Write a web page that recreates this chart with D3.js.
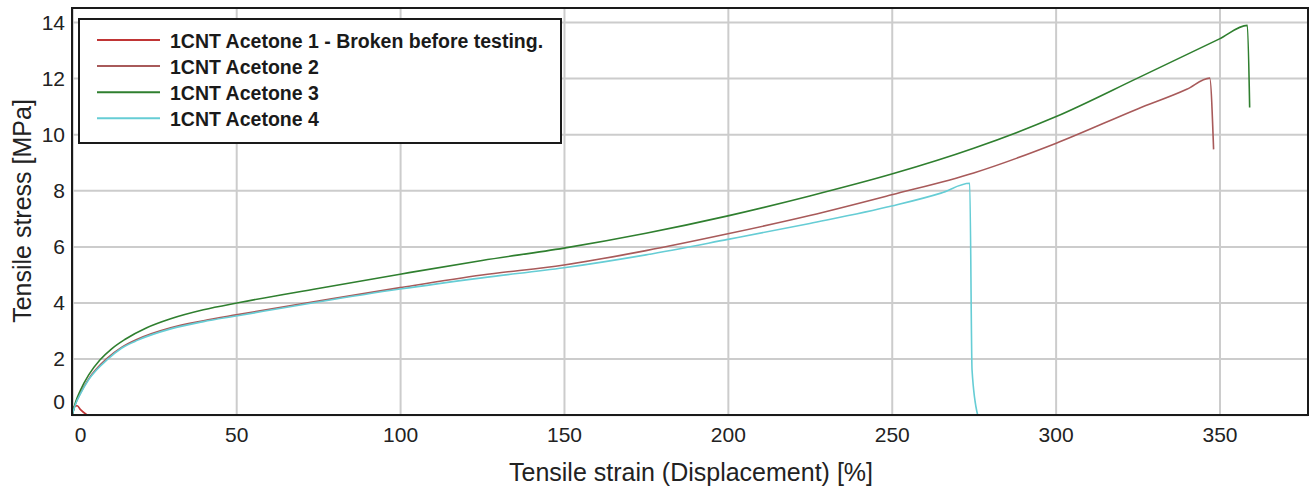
<!DOCTYPE html>
<html>
<head>
<meta charset="utf-8">
<script src="https://cdn.jsdelivr.net/npm/d3@7"></script>
<style>
  html, body { margin: 0; padding: 0; background: #fff; }
  svg { display: block; font-family: "Liberation Sans", Arial, sans-serif; }
</style>
</head>
<body>
<svg id="chart" width="1314" height="493"></svg>
<script>
// Tensile test curves: strain [%] and stress [MPa] for each specimen
const strain1 = [0, 0.6, 1.5, 2.5, 4.4];
const stress1 = [0.05, 0.3, 0.32, 0.18, 0.0];

const strain2 = [0, 1, 2.5, 5, 10.5, 15, 20, 30, 40, 50, 75, 100, 125, 150, 175, 200, 225, 250, 275, 300, 325, 340, 347, 348.2];
const stress2 = [0, 0.4, 0.78, 1.28, 2.0, 2.4, 2.7, 3.1, 3.35, 3.56, 4.05, 4.53, 4.98, 5.34, 5.85, 6.45, 7.1, 7.84, 8.62, 9.67, 10.9, 11.6, 12.0, 9.46];

const strain3 = [0, 1, 2.5, 5, 8.4, 12, 16, 22.7, 30, 40, 51, 75, 100, 125, 150, 175, 200, 225, 250, 275, 300, 325, 350, 358.5, 359.2];
const stress3 = [0, 0.45, 0.88, 1.42, 1.95, 2.35, 2.68, 3.1, 3.42, 3.74, 4.0, 4.5, 5.01, 5.5, 5.94, 6.47, 7.09, 7.8, 8.58, 9.5, 10.62, 12.0, 13.4, 13.88, 10.95];

const strain4 = [0, 1, 2.5, 5, 11, 15, 20, 30, 40, 50, 75, 100, 125, 150, 175, 200, 225, 250, 265, 273.8, 274.5, 276.2];
const stress4 = [0, 0.38, 0.75, 1.25, 2.0, 2.37, 2.66, 3.06, 3.32, 3.52, 4.02, 4.48, 4.88, 5.24, 5.7, 6.25, 6.82, 7.44, 7.9, 8.25, 1.6, 0];

const seriesNames = [
  "1CNT Acetone 1 - Broken before testing.",
  "1CNT Acetone 2",
  "1CNT Acetone 3",
  "1CNT Acetone 4"
];
const seriesColors = ["#c03535", "#a85a5a", "#2f7f2f", "#66cdd5"];

const xTicks = [0, 50, 100, 150, 200, 250, 300, 350];
const yTicks = [0, 2, 4, 6, 8, 10, 12, 14];

const xTitle = "Tensile strain (Displacement) [%]";
const yTitle = "Tensile stress [MPa]";

const zip = (xs, ys) => xs.map((v, i) => [v, ys[i]]);
const series = [
  zip(strain1, stress1),
  zip(strain2, stress2),
  zip(strain3, stress3),
  zip(strain4, stress4)
];

// Plot area
const plotLeft = 72, plotRight = 1308, plotTop = 8, plotBottom = 415;

const x = d3.scaleLinear().domain([-0.1, 377]).range([plotLeft, plotRight]);
const y = d3.scaleLinear().domain([-0.01, 14.5]).range([plotBottom, plotTop]);

const svg = d3.select("#chart");

svg.append("defs").append("clipPath").attr("id", "plotClip")
  .append("rect").attr("x", plotLeft).attr("y", plotTop)
  .attr("width", plotRight - plotLeft).attr("height", plotBottom - plotTop);

// Vertical grid lines and strain tick labels
const gx = svg.append("g")
  .attr("transform", `translate(0,${plotBottom})`)
  .call(d3.axisBottom(x).tickValues(xTicks).tickSize(-(plotBottom - plotTop)).tickPadding(12).tickFormat(d3.format("d")));
gx.select(".domain").remove();
gx.selectAll(".tick line").attr("stroke", "#cccccc").attr("stroke-width", 2);
gx.selectAll(".tick text")
  .attr("fill", "#222").attr("font-size", 21)
  .attr("dx", d => (x(d) < plotLeft + 8 ? plotLeft + 8 - x(d) : 0));

// Horizontal grid lines and stress tick labels
const gy = svg.append("g")
  .attr("transform", `translate(${plotLeft},0)`)
  .call(d3.axisLeft(y).tickValues(yTicks).tickSize(-(plotRight - plotLeft)).tickPadding(7).tickFormat(d3.format("d")));
gy.select(".domain").remove();
gy.selectAll(".tick line").attr("stroke", "#cccccc").attr("stroke-width", 2);
gy.selectAll(".tick text")
  .attr("fill", "#222").attr("font-size", 21)
  .attr("dy", d => (y(d) > plotBottom - 14 ? (plotBottom - 14 - y(d)) + 7 : 7) + "px");

// Data lines
const line = d3.line().curve(d3.curveMonotoneX).x(d => x(d[0])).y(d => y(d[1]));
svg.append("g").attr("clip-path", "url(#plotClip)")
  .selectAll("path").data(series).join("path")
  .attr("d", line)
  .attr("fill", "none")
  .attr("stroke", (d, i) => seriesColors[i])
  .attr("stroke-width", 1.6)
  .attr("stroke-linejoin", "round");

// Plot frame
svg.append("rect")
  .attr("x", plotLeft).attr("y", plotTop)
  .attr("width", plotRight - plotLeft).attr("height", plotBottom - plotTop)
  .attr("fill", "none").attr("stroke", "#1a1a1a").attr("stroke-width", 2);

// Axis titles
svg.append("text")
  .attr("x", 691).attr("y", 481)
  .attr("text-anchor", "middle")
  .attr("font-size", 25).attr("fill", "#222")
  .text(xTitle);

svg.append("text")
  .attr("transform", "translate(31,211) rotate(-90)")
  .attr("text-anchor", "middle")
  .attr("font-size", 25).attr("fill", "#222")
  .text(yTitle);

// Legend
const legend = svg.append("g");
legend.append("rect")
  .attr("x", 79).attr("y", 19)
  .attr("width", 482).attr("height", 124)
  .attr("fill", "#fff").attr("stroke", "#1a1a1a").attr("stroke-width", 2);

const rows = legend.selectAll("g.row").data(seriesNames).join("g")
  .attr("class", "row")
  .attr("transform", (d, i) => `translate(0,${40 + i * 26.1})`);
rows.append("line")
  .attr("x1", 97).attr("x2", 160).attr("y1", 0).attr("y2", 0)
  .attr("stroke", (d, i) => seriesColors[i]).attr("stroke-width", 2);
rows.append("text")
  .attr("x", 170).attr("y", 8)
  .attr("font-size", 19.5).attr("font-weight", "bold").attr("fill", "#1a1a1a")
  .text(d => d);
</script>
</body>
</html>
